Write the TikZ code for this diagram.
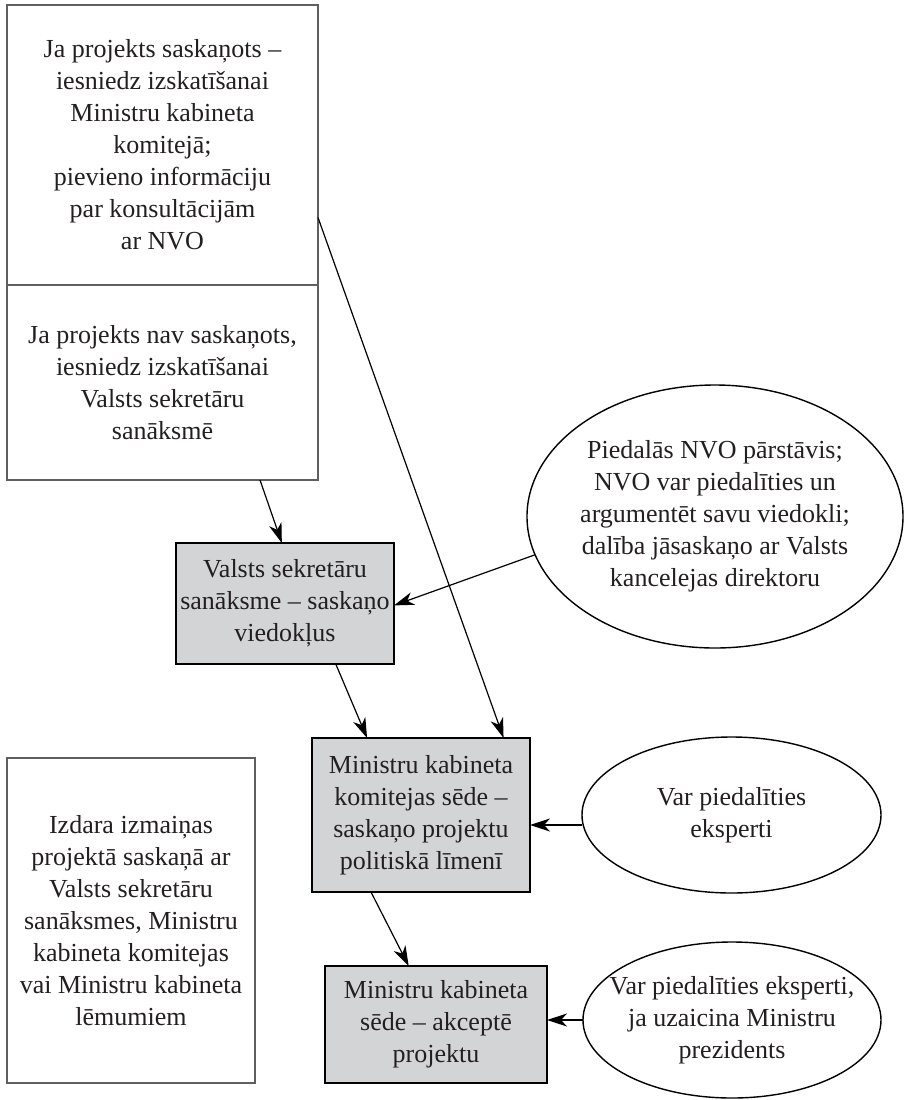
\documentclass[tikz,border=0pt]{standalone}
\usepackage{fontspec}
\setmainfont{Liberation Serif}
\definecolor{ink}{RGB}{35,31,32}
\definecolor{frame}{RGB}{95,95,95}
\definecolor{shade}{RGB}{211,212,214}
\usetikzlibrary{arrows.meta}
\usetikzlibrary{shapes.geometric}
\tikzstyle{base}=[x=0.5pt, y=-0.5pt, inner sep=0pt, outer sep=0pt, font=\fontsize{13}{16}\selectfont, text=ink]
\tikzstyle{plain}=[draw=frame, line width=1pt, align=center]
\tikzstyle{stage}=[draw=black, line width=1.4pt, fill=shade, align=center]
\tikzstyle{note}=[ellipse, draw=black, line width=0.7pt, align=center, inner xsep=-15pt, inner ysep=-10pt]
\tikzstyle{flow}=[-{Stealth[length=10pt, width=6.5pt, inset=3pt]}, line width=0.6pt, black]

\begin{document}
\begin{tikzpicture}[base]
    \useasboundingbox (0,0) rectangle (905,1100);
        \node [plain, minimum width=155.5pt, minimum height=140pt] (saskanots) at (162.5,145)
            {Ja projekts saskaņots –\\iesniedz izskatīšanai\\Ministru kabineta\\komitejā;\\pievieno informāciju\\par konsultācijām\\ar NVO};
        \node [plain, minimum width=155.5pt, minimum height=97.5pt] (nesaskanots) at (162.5,382.5)
            {Ja projekts nav saskaņots,\\iesniedz izskatīšanai\\Valsts sekretāru\\sanāksmē};
        \node [stage, minimum width=109pt, minimum height=60.5pt] (vss) at (285,603.5)
            {Valsts sekretāru\\sanāksme – saskaņo\\viedokļus};
        \node [stage, minimum width=109pt, minimum height=77pt] (mkk) at (421,815)
            {Ministru kabineta\\komitejas sēde –\\saskaņo projektu\\politiskā līmenī};
        \node [stage, minimum width=111pt, minimum height=58.5pt] (mk) at (436,1024.5)
            {Ministru kabineta\\sēde – akceptē\\projektu};
        \node [plain, minimum width=124pt, minimum height=162.5pt] (izmainas) at (131,920.5)
            {Izdara izmaiņas\\projektā saskaņā ar\\Valsts sekretāru\\sanāksmes, Ministru\\kabineta komitejas\\vai Ministru kabineta\\lēmumiem};
        \node [note, minimum width=188pt, minimum height=131.5pt] (nvo) at (715,516.5)
            {Piedalās NVO pārstāvis;\\NVO var piedalīties un\\argumentēt savu viedokli;\\dalība jāsaskaņo ar Valsts\\kancelejas direktoru};
        \node [note, minimum width=149.5pt, minimum height=78pt] (eksperti) at (731.5,815)
            {Var piedalīties\\eksperti};
        \node [note, minimum width=149pt, minimum height=78pt] (prezidents) at (732,1020)
            {Var piedalīties eksperti,\\ja uzaicina Ministru\\prezidents};
        \draw [flow] (nesaskanots.-45.9) -- (vss.93.7);
        \draw [flow] (saskanots.-25.75) -- (mkk.43.55);
        \draw [flow] (nvo.192.5) -- (vss.-1.8);
        \draw [flow] (vss.-50.4) -- (mkk.125);
        \draw [flow] ([yshift=-5pt]eksperti.west) -- ([yshift=-5pt]mkk.east);
        \draw [flow] (mkk.237.5) -- (mk.115.6);
        \draw [flow] (prezidents.west) -- (prezidents.west -| mk.east);
    \end{tikzpicture}
\end{document}
